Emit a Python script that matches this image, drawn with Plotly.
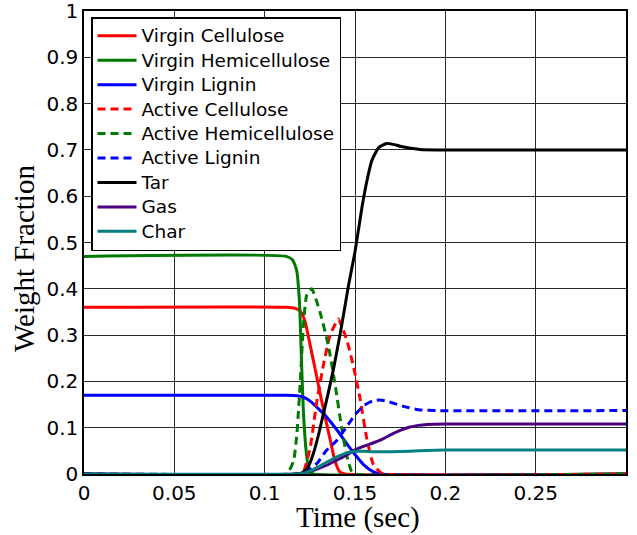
import plotly.graph_objects as go

# Species weight fractions versus time (sec) during pyrolysis
t_vc = [0, 0.112, 0.1168, 0.1196, 0.1223, 0.1251, 0.1288, 0.1325, 0.1362, 0.139, 0.1417, 0.1445, 0.3]
virgin_cellulose = [0.36, 0.36, 0.358, 0.352, 0.33, 0.28, 0.21, 0.14, 0.075, 0.027, 0.004, 0, 0]

t_vh = [0, 0.112, 0.1155, 0.1177, 0.1192, 0.1205, 0.1214, 0.1229, 0.1247, 0.127, 0.3]
virgin_hemicellulose = [0.47, 0.47, 0.462, 0.44, 0.376, 0.232, 0.138, 0.052, 0.005, 0, 0]

t_vl = [0, 0.112, 0.118, 0.1214, 0.125, 0.130, 0.135, 0.140, 0.145, 0.150, 0.155, 0.160, 0.164, 0.3]
virgin_lignin = [0.17, 0.17, 0.169, 0.166, 0.158, 0.140, 0.12, 0.095, 0.068, 0.042, 0.019, 0.005, 0, 0]

t_ac = [0, 0.118, 0.1214, 0.1251, 0.1288, 0.1325, 0.1362, 0.1399, 0.1408, 0.1454, 0.149, 0.1528, 0.1565, 0.160, 0.1639, 0.166, 0.3]
active_cellulose = [0, 0, 0.005, 0.055, 0.155, 0.235, 0.300, 0.330, 0.335, 0.29, 0.235, 0.163, 0.077, 0.022, 0.004, 0, 0]

t_ah = [0, 0.112, 0.1159, 0.1177, 0.1196, 0.1214, 0.1233, 0.126, 0.1306, 0.1352, 0.139, 0.1426, 0.1454, 0.1482, 0.150, 0.3]
active_hemicellulose = [0, 0, 0.027, 0.08, 0.192, 0.318, 0.387, 0.40, 0.350, 0.278, 0.193, 0.10, 0.04, 0.005, 0, 0]

t_al = [0, 0.118, 0.122, 0.125, 0.129, 0.134, 0.140, 0.145, 0.150, 0.155, 0.160, 0.164, 0.168, 0.172, 0.178, 0.185, 0.195, 0.3]
active_lignin = [0, 0, 0.003, 0.01, 0.023, 0.05, 0.073, 0.10, 0.128, 0.148, 0.158, 0.16, 0.157, 0.152, 0.145, 0.139, 0.137, 0.137]

t_tar = [0, 0.118, 0.121, 0.124, 0.127, 0.130, 0.1325, 0.135, 0.138, 0.1426, 0.1463, 0.150, 0.1539,
         0.1567, 0.1594, 0.1631, 0.1675, 0.170, 0.175, 0.180, 0.186, 0.195, 0.3]
tar = [0, 0, 0.003, 0.015, 0.045, 0.088, 0.13, 0.172, 0.225, 0.32, 0.405, 0.48, 0.577,
       0.635, 0.678, 0.705, 0.714, 0.713, 0.708, 0.704, 0.701, 0.700, 0.700]

t_gas = [0, 0.12, 0.125, 0.13, 0.135, 0.14, 0.145, 0.15, 0.155, 0.16, 0.165, 0.17, 0.175, 0.18, 0.185, 0.19, 0.2, 0.3]
gas = [0, 0, 0.005, 0.012, 0.02, 0.03, 0.04, 0.052, 0.06, 0.067, 0.075, 0.085, 0.094, 0.101, 0.105, 0.107, 0.108, 0.108]

t_char = [0, 0.118, 0.122, 0.126, 0.13, 0.135, 0.14, 0.145, 0.15, 0.155, 0.16, 0.17, 0.18, 0.19, 0.2, 0.3]
char = [0, 0, 0.002, 0.008, 0.016, 0.027, 0.037, 0.045, 0.049, 0.049, 0.048, 0.048, 0.049, 0.051, 0.052, 0.052]

x_ticks = [0, 0.05, 0.1, 0.15, 0.2, 0.25]
x_tick_text = ["0", "0.05", "0.1", "0.15", "0.2", "0.25"]
y_ticks = [0, 0.1, 0.2, 0.3, 0.4, 0.5, 0.6, 0.7, 0.8, 0.9, 1]
y_tick_text = ["0", "0.1", "0.2", "0.3", "0.4", "0.5", "0.6", "0.7", "0.8", "0.9", "1"]

GREEN = "#007a00"
series = [
    ("Virgin Cellulose", t_vc, virgin_cellulose, "#ff0000", "solid"),
    ("Virgin Hemicellulose", t_vh, virgin_hemicellulose, GREEN, "solid"),
    ("Virgin Lignin", t_vl, virgin_lignin, "#0000ff", "solid"),
    ("Active Cellulose", t_ac, active_cellulose, "#ff0000", "8px,5px"),
    ("Active Hemicellulose", t_ah, active_hemicellulose, GREEN, "8px,5px"),
    ("Active Lignin", t_al, active_lignin, "#0000ff", "8px,5px"),
    ("Tar", t_tar, tar, "#000000", "solid"),
    ("Gas", t_gas, gas, "#4b0082", "solid"),
    ("Char", t_char, char, "#008080", "solid"),
]

fig = go.Figure()
for name, t, v, color, dash in series:
    fig.add_trace(go.Scatter(
        x=t, y=v, mode="lines",
        # legend rows keep compact spacing while the label text is drawn slightly larger
        name=f"<span style='font-size:18.5px'>{name}</span>",
        line=dict(color=color, width=3, dash=dash, shape="spline", smoothing=0.5),
    ))

W, H = 637, 535
ML, MR, MT, MB = 84, 11, 11, 61
pw, ph = W - ML - MR, H - MT - MB

def px_x(px):
    return (px - ML) / pw

def px_y(py):
    return (H - MB - py) / ph

axis_common = dict(
    showgrid=True, gridcolor="#2a2a2a", gridwidth=1,
    showline=True, linecolor="black", linewidth=1.5, mirror=True,
    ticks="", zeroline=False, automargin=False, ticklabeloverflow="allow",
    tickfont=dict(family="DejaVu Sans", size=20, color="black"),
)

fig.update_layout(
    width=W, height=H,
    margin=dict(l=ML, r=MR, t=MT, b=MB, autoexpand=False),
    paper_bgcolor="white", plot_bgcolor="white",
    xaxis=dict(range=[0, 0.3], tickvals=x_ticks, ticktext=x_tick_text, **axis_common),
    yaxis=dict(range=[0, 1], tickvals=y_ticks, ticktext=y_tick_text, **axis_common),
    showlegend=True,
    legend=dict(
        x=px_x(91), y=px_y(17), xanchor="left", yanchor="top",
        bgcolor="white", bordercolor="black", borderwidth=1.5,
        font=dict(family="DejaVu Sans", size=16.5, color="black"),
        tracegroupgap=0, itemwidth=39,
    ),
    annotations=[
        dict(text="Time (sec)", xref="paper", yref="paper",
             x=px_x(357.5), y=px_y(517), xanchor="center", yanchor="middle",
             showarrow=False, font=dict(family="Liberation Serif", size=29, color="black")),
        dict(text="Weight Fraction", xref="paper", yref="paper",
             x=px_x(23.5), y=px_y(258.5), xanchor="center", yanchor="middle",
             textangle=-90, showarrow=False,
             font=dict(family="Liberation Serif", size=29, color="black")),
    ],
)

fig.write_html("out.html")
